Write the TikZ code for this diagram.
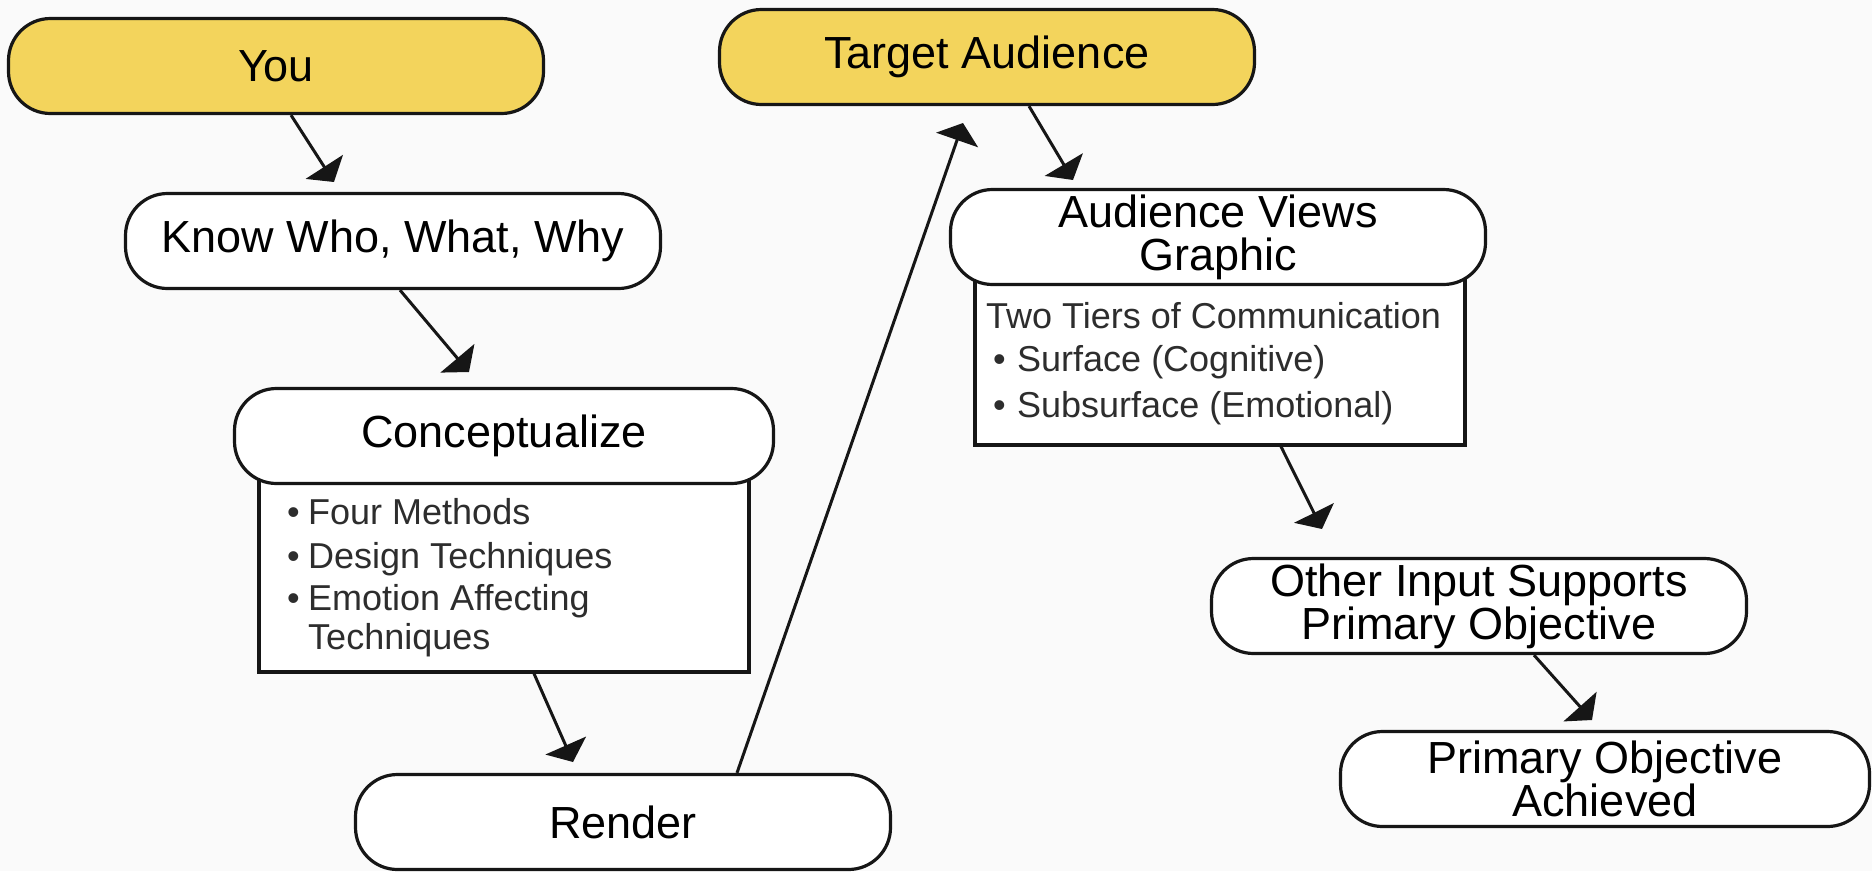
\documentclass[tikz,border=0pt]{standalone}
\usepackage{fontspec}
\setmainfont{Liberation Sans}
\usetikzlibrary{arrows.meta}

\definecolor{bg}{RGB}{250,250,250}
\definecolor{gold}{RGB}{243,212,92}
\definecolor{ink}{RGB}{22,22,22}
\definecolor{subink}{RGB}{45,45,45}

% bullet with a fixed-width slot so wrapped lines align with the text
\newcommand{\bulslot}[1]{\makebox[#1][l]{\textbullet}}

\begin{document}
\begin{tikzpicture}[x=1pt,y=-1pt,
  pill/.style={draw=ink, line width=3.2pt, fill=white, rounded corners=42pt,
    minimum width=535pt, minimum height=95pt, inner sep=0pt, align=center,
    font=\fontsize{45}{40}\selectfont},
  gold pill/.style={pill, fill=gold},
  panel/.style={draw=ink, line width=3.2pt, fill=white, inner sep=0pt},
  listtext/.style={anchor=base west, inner sep=0pt, text=subink,
    font=\fontsize{36}{42}\selectfont},
  link/.style={draw=ink, line width=3pt, -{Triangle[length=18pt,width=44pt]}},
]
% canvas
\path[fill=bg, use as bounding box] (0,0) rectangle (1872,871);

% detail panels (drawn first so the pills overlap their top edges)
\node[panel, minimum width=490pt, minimum height=202pt] (cpanel) at (504,571) {};
\node[panel, minimum width=490pt, minimum height=170pt] (vpanel) at (1220,360) {};

% flow steps
\node[gold pill] (you) at (276,66) {You};
\node[pill] (know) at (393,241) {Know Who, What, Why};
\node[pill, minimum width=539pt] (concept) at (504,436) {Conceptualize};
\node[pill] (render) at (623,822) {Render};
\node[gold pill] (target) at (987,57) {Target Audience};
\node[pill, font=\fontsize{45}{43}\selectfont] (views) at (1218,237) {Audience Views\\Graphic};
\node[pill] (other) at (1479,606) {Other Input Supports\\Primary Objective};
\node[pill, minimum width=529pt] (goal) at (1605,779) {Primary Objective\\Achieved};

% conceptualize details
\node[listtext] (c1) at (287,524) {\bulslot{21pt}Four Methods};
\node[listtext] (c2) at (287,568) {\bulslot{21pt}Design Techniques};
\node[listtext] (c3) at (287,610) {\bulslot{21pt}Emotion Affecting};
\node[listtext] (c4) at (308,649) {Techniques};

% audience details
\node[listtext] (t1) at (986,328) {Two Tiers of Communication};
\node[listtext] (t2) at (993,371) {\bulslot{24pt}Surface (Cognitive)};
\node[listtext] (t3) at (993,417) {\bulslot{24pt}Subsurface (Emotional)};

% arrow ends
\coordinate (e1) at (334,182);
\coordinate (e2) at (469,372);
\coordinate (e3) at (573,762);
\coordinate (e4) at (963,123);
\coordinate (e5) at (1073,180);
\coordinate (e6) at (1322,529);
\coordinate (e7) at (1592,720);

\draw[link] ([xshift=15pt]you.south) -- (e1);
\draw[link] ([xshift=7pt]know.south) -- (e2);
\draw[link] ([xshift=30pt]cpanel.south) -- (e3);
\draw[link] ([xshift=114pt]render.north) -- (e4);
\draw[link] ([xshift=42pt]target.south) -- (e5);
\draw[link] ([xshift=61pt]vpanel.south) -- (e6);
\draw[link] ([xshift=55pt]other.south) -- (e7);
\end{tikzpicture}
\end{document}
